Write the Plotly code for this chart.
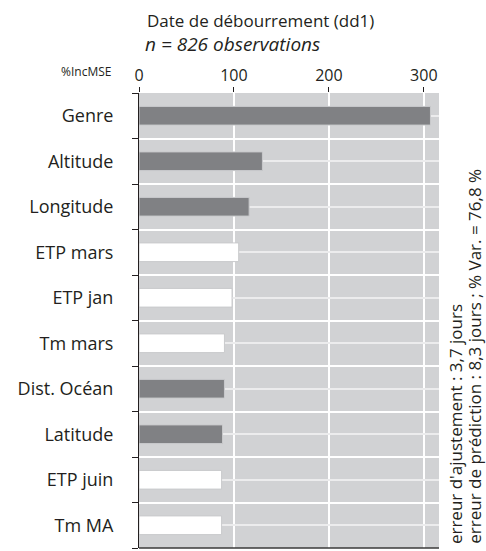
import plotly.graph_objects as go

categories = ["Genre", "Altitude", "Longitude", "ETP mars", "ETP jan",
              "Tm mars", "Dist. Océan", "Latitude", "ETP juin", "Tm MA"]
inc_mse = [307, 130, 116, 105, 98, 90, 90, 88, 87, 87]
var_group = ["site", "site", "site", "climat", "climat",
             "climat", "site", "site", "climat", "climat"]
x_ticks = [0, 100, 200, 300]

group_colors = {"site": "#808184", "climat": "#ffffff"}
FONT = "Open Sans"
TXT = "#231f20"

pos = list(range(len(categories)))

fig = go.Figure()
fig.add_trace(go.Bar(
    x=inc_mse, y=pos, orientation="h", width=0.41,
    marker=dict(color=[group_colors[g] for g in var_group],
                line=dict(color="#c9cacc", width=1)),
    hoverinfo="x+text", text=categories, textposition="none",
))

fig.update_layout(
    width=486, height=551,
    margin=dict(l=139, r=47, t=93, b=3, autoexpand=False),
    paper_bgcolor="white", plot_bgcolor="#d1d2d4",
    showlegend=False,
    font=dict(family=FONT, color=TXT),
    xaxis=dict(side="top", range=[0, 316], tickvals=x_ticks, automargin=False,
               ticks="outside", ticklen=5, tickcolor=TXT,
               tickfont=dict(size=16, family=FONT, color=TXT),
               showgrid=True, gridcolor="white", gridwidth=1.5,
               zeroline=False, showline=False, fixedrange=True),
    yaxis=dict(range=[9.5, -0.5], tickvals=pos, ticktext=categories, automargin=False,
               ticks="", ticklabelstandoff=21,
               tickfont=dict(size=18, family=FONT, color=TXT),
               showgrid=True, gridcolor="#ececed", gridwidth=1.5,
               zeroline=False, showline=True, linecolor=TXT, linewidth=1,
               minor=dict(tick0=-0.5, dtick=1, ticks="outside", ticklen=6,
                          tickcolor=TXT, showgrid=True,
                          gridcolor="white", gridwidth=1.5),
               fixedrange=True),
)

fig.add_shape(type="line", xref="paper", yref="paper", x0=0, x1=1, y0=0, y1=0,
              line=dict(color="#3a3a3a", width=1.5))

fig.add_annotation(text="Date de débourrement (dd1)", xref="paper", yref="paper",
                   x=0.02, y=1.16, xanchor="left", yanchor="middle",
                   showarrow=False, font=dict(size=17, family=FONT))
fig.add_annotation(text="<i>n = 826 observations</i>", xref="paper", yref="paper",
                   x=0.013, y=1.107, xanchor="left", yanchor="middle",
                   showarrow=False, font=dict(size=19, family=FONT))
fig.add_annotation(text="%IncMSE", xref="paper", yref="paper",
                   x=-0.087, y=1.048, xanchor="right", yanchor="middle",
                   showarrow=False, font=dict(size=12, family=FONT))
fig.add_annotation(text="erreur d'ajustement : 3,7 jours", xref="paper", yref="paper",
                   x=1.053, y=0.004, xanchor="center", yanchor="bottom",
                   textangle=-90, showarrow=False, font=dict(size=17, family=FONT))
fig.add_annotation(text="erreur de prédiction : 8,3 jours ; % Var. = 76,8 %",
                   xref="paper", yref="paper",
                   x=1.12, y=0.004, xanchor="center", yanchor="bottom",
                   textangle=-90, showarrow=False, font=dict(size=17, family=FONT))

fig.write_html("out.html", config={"displayModeBar": False},
               post_script="document.body.style.margin='0';document.body.style.padding='0';")
